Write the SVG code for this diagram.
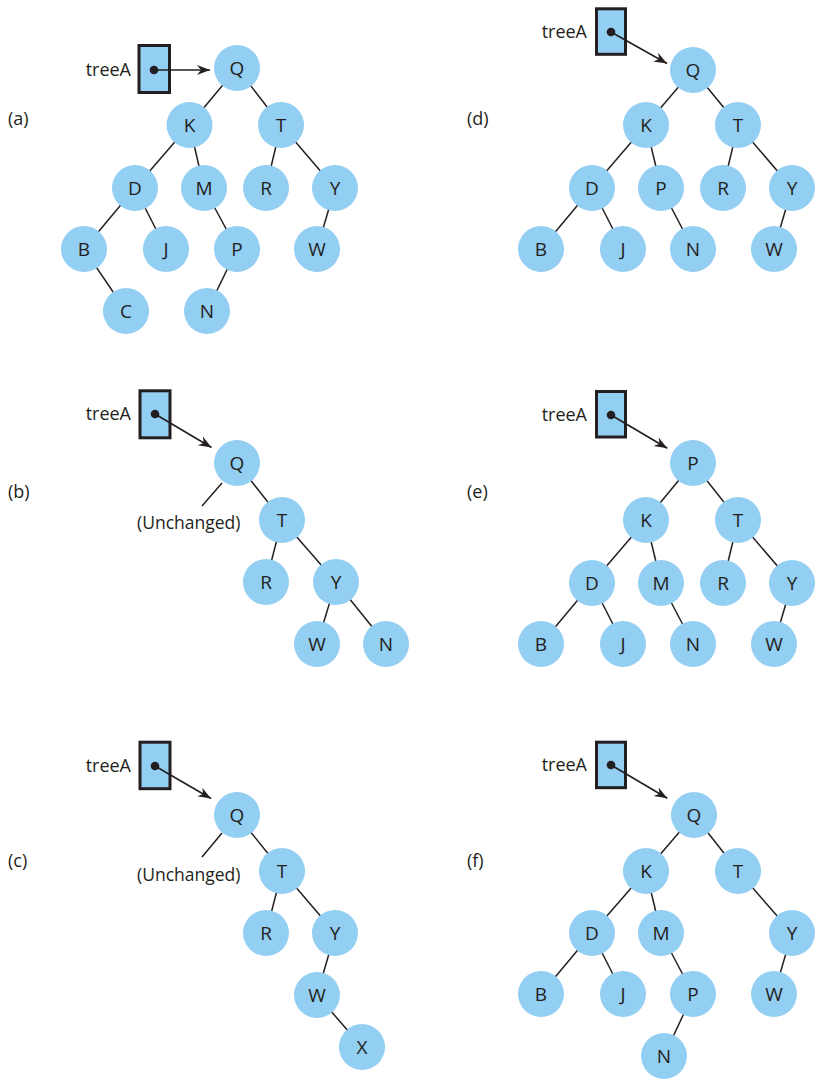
<svg xmlns="http://www.w3.org/2000/svg" width="816" height="1083" viewBox="0 0 816 1083">
<style>
.n circle{fill:#93cef3}
.n text{font-family:"Open Sans","Noto Sans",sans-serif;font-size:19px;fill:#231f20;text-anchor:middle}
.e line{stroke:#231f20;stroke-width:1.5}
.ptr line{stroke:#231f20;stroke-width:1.6}
.box{fill:#93cef3;stroke:#231f20;stroke-width:3}
.dot{fill:#231f20}
.lbl{font-family:"Open Sans","Noto Sans",sans-serif;font-size:18px;fill:#231f20}
.tr{font-family:"Open Sans","Noto Sans",sans-serif;font-size:18px;fill:#231f20;text-anchor:end}
.un{font-family:"Open Sans","Noto Sans",sans-serif;font-size:17.5px;fill:#231f20}
</style>
<defs>
<marker id="ah" markerUnits="userSpaceOnUse" markerWidth="16" markerHeight="12" viewBox="-14 -6 16 12" refX="0" refY="0" orient="auto">
<path d="M0,0 L-13,-5 L-9,0 L-13,5 Z" fill="#231f20"/>
</marker>
</defs>
<rect width="816" height="1083" fill="#fff"/>

<g id="labels">
<text class="lbl" x="8" y="125">(a)</text>
<text class="lbl" x="8" y="498">(b)</text>
<text class="lbl" x="8" y="867">(c)</text>
<text class="lbl" x="467" y="125">(d)</text>
<text class="lbl" x="467" y="498">(e)</text>
<text class="lbl" x="467" y="867">(f)</text>
</g>

<g id="pointers">
<g id="ptrA"><text class="tr" x="131" y="76">treeA</text><rect class="box" x="139" y="45.5" width="30.5" height="47"/><circle class="dot" cx="154" cy="70" r="4.3"/></g>
<g id="ptrB"><text class="tr" x="131" y="420">treeA</text><rect class="box" x="140" y="390.8" width="30" height="47"/><circle class="dot" cx="155" cy="414" r="4.3"/></g>
<g id="ptrC"><text class="tr" x="131" y="772">treeA</text><rect class="box" x="140" y="742.2" width="30" height="46.5"/><circle class="dot" cx="155" cy="766" r="4.3"/></g>
<g id="ptrD"><text class="tr" x="587" y="38">treeA</text><rect class="box" x="596.5" y="8.8" width="29" height="45.5"/><circle class="dot" cx="611" cy="32" r="4.3"/></g>
<g id="ptrE"><text class="tr" x="587" y="421">treeA</text><rect class="box" x="596.5" y="391.5" width="29" height="45.5"/><circle class="dot" cx="611" cy="415" r="4.3"/></g>
<g id="ptrF"><text class="tr" x="587" y="771">treeA</text><rect class="box" x="596.5" y="742.2" width="29" height="45.5"/><circle class="dot" cx="611" cy="765" r="4.3"/></g>
</g>

<text class="un" x="137" y="529">(Unchanged)</text>
<text class="un" x="137" y="881">(Unchanged)</text>

<g id="connectors">
<g class="e">
<line x1="237" y1="68" x2="189.5" y2="125"/><line x1="237" y1="68" x2="281" y2="125"/>
<line x1="189.5" y1="125" x2="135" y2="188"/><line x1="189.5" y1="125" x2="204" y2="188"/>
<line x1="281" y1="125" x2="266" y2="188"/><line x1="281" y1="125" x2="335" y2="188"/>
<line x1="135" y1="188" x2="84" y2="249"/><line x1="135" y1="188" x2="166" y2="249"/>
<line x1="204" y1="188" x2="237" y2="249"/><line x1="335" y1="188" x2="317" y2="249"/>
<line x1="84" y1="249" x2="126" y2="311"/><line x1="237" y1="249" x2="207" y2="311"/>
<line x1="237" y1="463" x2="282" y2="520"/><line x1="222" y1="483" x2="202" y2="506"/>
<line x1="282" y1="520" x2="266" y2="582"/><line x1="282" y1="520" x2="336" y2="582"/>
<line x1="336" y1="582" x2="317" y2="644"/><line x1="336" y1="582" x2="386" y2="644"/>
<line x1="237" y1="815" x2="282" y2="871"/><line x1="222" y1="833" x2="202" y2="857"/>
<line x1="282" y1="871" x2="266" y2="933"/><line x1="282" y1="871" x2="335" y2="933"/>
<line x1="335" y1="933" x2="317" y2="995"/><line x1="317" y1="995" x2="362" y2="1047"/>
<line x1="693" y1="70" x2="646" y2="125"/><line x1="693" y1="70" x2="738" y2="125"/>
<line x1="646" y1="125" x2="592" y2="188"/><line x1="646" y1="125" x2="661" y2="188"/>
<line x1="738" y1="125" x2="723" y2="188"/><line x1="738" y1="125" x2="792" y2="188"/>
<line x1="592" y1="188" x2="541" y2="249"/><line x1="592" y1="188" x2="623" y2="249"/>
<line x1="661" y1="188" x2="693" y2="249"/><line x1="792" y1="188" x2="774" y2="249"/>
<line x1="693" y1="463" x2="646" y2="520"/><line x1="693" y1="463" x2="738" y2="520"/>
<line x1="646" y1="520" x2="592" y2="583"/><line x1="646" y1="520" x2="661" y2="583"/>
<line x1="738" y1="520" x2="723" y2="583"/><line x1="738" y1="520" x2="792" y2="583"/>
<line x1="592" y1="583" x2="541" y2="644"/><line x1="592" y1="583" x2="623" y2="644"/>
<line x1="661" y1="583" x2="693" y2="644"/><line x1="792" y1="583" x2="774" y2="644"/>
<line x1="694" y1="815" x2="646" y2="871"/><line x1="694" y1="815" x2="738" y2="871"/>
<line x1="646" y1="871" x2="592" y2="933"/><line x1="646" y1="871" x2="661" y2="933"/>
<line x1="738" y1="871" x2="792" y2="933"/>
<line x1="592" y1="933" x2="541" y2="994"/><line x1="592" y1="933" x2="623" y2="994"/>
<line x1="661" y1="933" x2="693" y2="994"/><line x1="792" y1="933" x2="774" y2="994"/>
<line x1="693" y1="994" x2="664" y2="1056"/>
</g>
<g class="ptr">
<line x1="154" y1="70" x2="210" y2="70" marker-end="url(#ah)"/>
<line x1="155" y1="414" x2="211.5" y2="447.5" marker-end="url(#ah)"/>
<line x1="155" y1="766" x2="211" y2="798.5" marker-end="url(#ah)"/>
<line x1="611" y1="32" x2="667" y2="63.5" marker-end="url(#ah)"/>
<line x1="611" y1="415" x2="667.3" y2="448.3" marker-end="url(#ah)"/>
<line x1="611" y1="765" x2="667.3" y2="798.3" marker-end="url(#ah)"/>
</g>
</g>

<g id="tree-a">
<g id="a-Q" class="n"><circle cx="237" cy="68" r="23"/><text x="237" y="74.8">Q</text></g>
<g id="a-K" class="n"><circle cx="189.5" cy="125" r="23"/><text x="189.5" y="131.8">K</text></g>
<g id="a-T" class="n"><circle cx="281" cy="125" r="23"/><text x="281" y="131.8">T</text></g>
<g id="a-D" class="n"><circle cx="135" cy="188" r="23"/><text x="135" y="194.8">D</text></g>
<g id="a-M" class="n"><circle cx="204" cy="188" r="23"/><text x="204" y="194.8">M</text></g>
<g id="a-R" class="n"><circle cx="266" cy="188" r="23"/><text x="266" y="194.8">R</text></g>
<g id="a-Y" class="n"><circle cx="335" cy="188" r="23"/><text x="335" y="194.8">Y</text></g>
<g id="a-B" class="n"><circle cx="84" cy="249" r="23"/><text x="84" y="255.8">B</text></g>
<g id="a-J" class="n"><circle cx="166" cy="249" r="23"/><text x="166" y="255.8">J</text></g>
<g id="a-P" class="n"><circle cx="237" cy="249" r="23"/><text x="237" y="255.8">P</text></g>
<g id="a-W" class="n"><circle cx="317" cy="249" r="23"/><text x="317" y="255.8">W</text></g>
<g id="a-C" class="n"><circle cx="126" cy="311" r="23"/><text x="126" y="317.8">C</text></g>
<g id="a-N" class="n"><circle cx="207" cy="311" r="23"/><text x="207" y="317.8">N</text></g>
</g>

<g id="tree-b">
<g id="b-Q" class="n"><circle cx="237" cy="463" r="23"/><text x="237" y="469.8">Q</text></g>
<g id="b-T" class="n"><circle cx="282" cy="520" r="23"/><text x="282" y="526.8">T</text></g>
<g id="b-R" class="n"><circle cx="266" cy="582" r="23"/><text x="266" y="588.8">R</text></g>
<g id="b-Y" class="n"><circle cx="336" cy="582" r="23"/><text x="336" y="588.8">Y</text></g>
<g id="b-W" class="n"><circle cx="317" cy="644" r="23"/><text x="317" y="650.8">W</text></g>
<g id="b-N" class="n"><circle cx="386" cy="644" r="23"/><text x="386" y="650.8">N</text></g>
</g>

<g id="tree-c">
<g id="c-Q" class="n"><circle cx="237" cy="815" r="23"/><text x="237" y="821.8">Q</text></g>
<g id="c-T" class="n"><circle cx="282" cy="871" r="23"/><text x="282" y="877.8">T</text></g>
<g id="c-R" class="n"><circle cx="266" cy="933" r="23"/><text x="266" y="939.8">R</text></g>
<g id="c-Y" class="n"><circle cx="335" cy="933" r="23"/><text x="335" y="939.8">Y</text></g>
<g id="c-W" class="n"><circle cx="317" cy="995" r="23"/><text x="317" y="1001.8">W</text></g>
<g id="c-X" class="n"><circle cx="362" cy="1047" r="23"/><text x="362" y="1053.8">X</text></g>
</g>

<g id="tree-d">
<g id="d-Q" class="n"><circle cx="693" cy="70" r="23"/><text x="693" y="76.8">Q</text></g>
<g id="d-K" class="n"><circle cx="646" cy="125" r="23"/><text x="646" y="131.8">K</text></g>
<g id="d-T" class="n"><circle cx="738" cy="125" r="23"/><text x="738" y="131.8">T</text></g>
<g id="d-D" class="n"><circle cx="592" cy="188" r="23"/><text x="592" y="194.8">D</text></g>
<g id="d-P" class="n"><circle cx="661" cy="188" r="23"/><text x="661" y="194.8">P</text></g>
<g id="d-R" class="n"><circle cx="723" cy="188" r="23"/><text x="723" y="194.8">R</text></g>
<g id="d-Y" class="n"><circle cx="792" cy="188" r="23"/><text x="792" y="194.8">Y</text></g>
<g id="d-B" class="n"><circle cx="541" cy="249" r="23"/><text x="541" y="255.8">B</text></g>
<g id="d-J" class="n"><circle cx="623" cy="249" r="23"/><text x="623" y="255.8">J</text></g>
<g id="d-N" class="n"><circle cx="693" cy="249" r="23"/><text x="693" y="255.8">N</text></g>
<g id="d-W" class="n"><circle cx="774" cy="249" r="23"/><text x="774" y="255.8">W</text></g>
</g>

<g id="tree-e">
<g id="e-P" class="n"><circle cx="693" cy="463" r="23"/><text x="693" y="469.8">P</text></g>
<g id="e-K" class="n"><circle cx="646" cy="520" r="23"/><text x="646" y="526.8">K</text></g>
<g id="e-T" class="n"><circle cx="738" cy="520" r="23"/><text x="738" y="526.8">T</text></g>
<g id="e-D" class="n"><circle cx="592" cy="583" r="23"/><text x="592" y="589.8">D</text></g>
<g id="e-M" class="n"><circle cx="661" cy="583" r="23"/><text x="661" y="589.8">M</text></g>
<g id="e-R" class="n"><circle cx="723" cy="583" r="23"/><text x="723" y="589.8">R</text></g>
<g id="e-Y" class="n"><circle cx="792" cy="583" r="23"/><text x="792" y="589.8">Y</text></g>
<g id="e-B" class="n"><circle cx="541" cy="644" r="23"/><text x="541" y="650.8">B</text></g>
<g id="e-J" class="n"><circle cx="623" cy="644" r="23"/><text x="623" y="650.8">J</text></g>
<g id="e-N" class="n"><circle cx="693" cy="644" r="23"/><text x="693" y="650.8">N</text></g>
<g id="e-W" class="n"><circle cx="774" cy="644" r="23"/><text x="774" y="650.8">W</text></g>
</g>

<g id="tree-f">
<g id="f-Q" class="n"><circle cx="694" cy="815" r="23"/><text x="694" y="821.8">Q</text></g>
<g id="f-K" class="n"><circle cx="646" cy="871" r="23"/><text x="646" y="877.8">K</text></g>
<g id="f-T" class="n"><circle cx="738" cy="871" r="23"/><text x="738" y="877.8">T</text></g>
<g id="f-D" class="n"><circle cx="592" cy="933" r="23"/><text x="592" y="939.8">D</text></g>
<g id="f-M" class="n"><circle cx="661" cy="933" r="23"/><text x="661" y="939.8">M</text></g>
<g id="f-Y" class="n"><circle cx="792" cy="933" r="23"/><text x="792" y="939.8">Y</text></g>
<g id="f-B" class="n"><circle cx="541" cy="994" r="23"/><text x="541" y="1000.8">B</text></g>
<g id="f-J" class="n"><circle cx="623" cy="994" r="23"/><text x="623" y="1000.8">J</text></g>
<g id="f-P" class="n"><circle cx="693" cy="994" r="23"/><text x="693" y="1000.8">P</text></g>
<g id="f-W" class="n"><circle cx="774" cy="994" r="23"/><text x="774" y="1000.8">W</text></g>
<g id="f-N" class="n"><circle cx="664" cy="1056" r="23"/><text x="664" y="1062.8">N</text></g>
</g>
</svg>
